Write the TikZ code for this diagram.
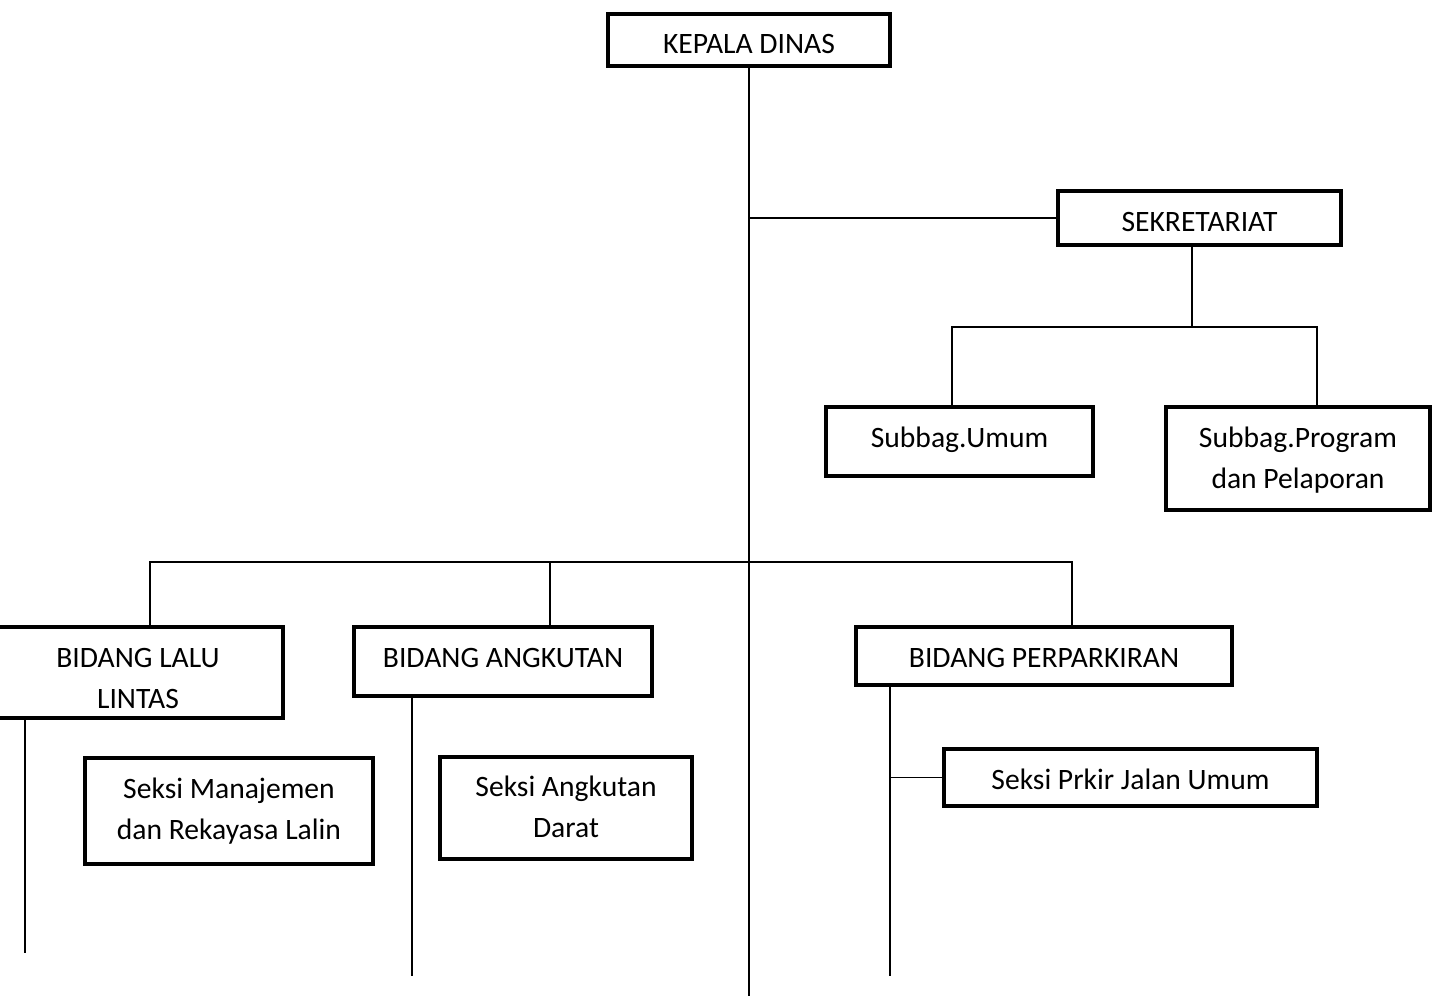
\documentclass[tikz,border=0pt]{standalone}
\usepackage{fontspec}
\setmainfont{Carlito}
\usepackage{tikz}
\usetikzlibrary{positioning}

\begin{document}
\begin{tikzpicture}[x=0.5pt, y=-0.5pt,
		box/.style = {draw, line width=2pt, align=center, inner sep=1pt,
			font=\fontsize{14.8}{20.5}\selectfont},
		link/.style = {line width=0.9pt}]
		\useasboundingbox (0,0) rectangle (1432,996);
		\node[box, minimum width=141pt, minimum height=26pt, text height=13.5pt, text depth=0pt] (kepala) at (749,40) {KEPALA DINAS};
		\node[box, minimum width=141.5pt, minimum height=27pt, text height=13pt, text depth=0pt] (sekre) at (1199.5,218) {SEKRETARIAT};
		\node[box, minimum width=133.5pt, minimum height=34.5pt, text height=10pt, text depth=4.5pt] (umum) at (959.5,441.5) {Subbag.Umum};
		\node[box, minimum width=132pt, minimum height=51.5pt, text height=33.5pt, text depth=4pt] (program) at (1298,458.5) {Subbag.Program\\dan Pelaporan};
		\node[box, minimum width=145pt, minimum height=45.5pt, text height=35.5pt, text depth=0pt] (lalu) at (138,672.5) {BIDANG LALU\\LINTAS};
		\node[box, minimum width=149pt, minimum height=34.5pt, text height=9.5pt, text depth=4pt] (angkutan) at (503,661.5) {BIDANG ANGKUTAN};
		\node[box, minimum width=188pt, minimum height=29pt, text height=11pt, text depth=0pt] (parkir) at (1044,656) {BIDANG PERPARKIRAN};
		\node[box, minimum width=144pt, minimum height=53pt, text height=32pt, text depth=4pt] (manajemen) at (229,811) {Seksi Manajemen\\dan Rekayasa Lalin};
		\node[box, minimum width=126pt, minimum height=51pt, text height=31pt, text depth=2pt] (darat) at (566,808) {Seksi Angkutan\\Darat};
		\node[box, minimum width=186.5pt, minimum height=28.5pt, text height=11.5pt, text depth=0pt] (prkir) at (1130.5,777.5) {Seksi Prkir Jalan Umum};

		\coordinate (ujung) at (749,996);
		\coordinate (s1) at (1192,327);
		\coordinate (s2) at (952,327);
		\coordinate (s3) at (1317,327);
		\coordinate (b1) at (150,562);
		\coordinate (b2) at (550,562);
		\coordinate (b3) at (1072,562);
		\coordinate (e1) at (25,953);
		\coordinate (e2) at (412,976);
		\coordinate (e3) at (890,976);

		\draw[link] (kepala.south) -- (ujung);
		\draw[link] (sekre.west) -- (sekre.west -| ujung);
		\draw[link] (s1 |- sekre.south) -- (s1);
		\draw[link] (s2 |- umum.north) -- (s2) -- (s3) -- (s3 |- program.north);
		\draw[link] (b1 |- lalu.north) -- (b1) -- (b3) -- (b3 |- parkir.north);
		\draw[link] (b2) -- (b2 |- angkutan.north);
		\draw[link] (e1 |- lalu.south) -- (e1);
		\draw[link] (e2 |- angkutan.south) -- (e2);
		\draw[link] (e3 |- parkir.south) -- (e3);
		\draw[link] (e3 |- prkir.west) -- (prkir.west);
	\end{tikzpicture}
\end{document}
